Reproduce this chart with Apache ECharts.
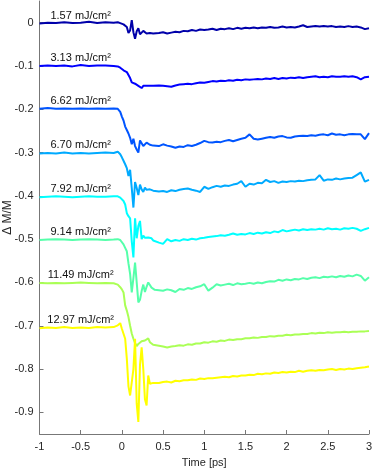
<!DOCTYPE html>
<html>
<head>
<meta charset="utf-8">
<script src="https://cdn.jsdelivr.net/npm/echarts@6/dist/echarts.min.js"></script>
<style>
  html, body { margin: 0; padding: 0; background: #fff; }
  #main { width: 373px; height: 471px; }
</style>
</head>
<body>
<div id="main"></div>
<script>
// time axis (ps), shared by all traces
const time = [
  -1, -0.9, -0.8, -0.7, -0.6, -0.5, -0.4, -0.3, -0.2, -0.1, -0.05, -0.02,
  0, 0.02, 0.04, 0.06, 0.08, 0.1, 0.12, 0.14, 0.16, 0.18, 0.2, 0.22, 0.24, 0.26, 0.28, 0.3, 0.32, 0.34, 0.36, 0.38, 0.4,
  0.45, 0.5, 0.55, 0.6, 0.65, 0.7, 0.75, 0.8, 0.85, 0.9, 0.95, 1,
  1.05, 1.1, 1.15, 1.2, 1.25, 1.3, 1.35, 1.4, 1.45, 1.5,
  1.55, 1.6, 1.65, 1.7, 1.75, 1.8, 1.85, 1.9, 1.95, 2,
  2.05, 2.1, 2.15, 2.2, 2.25, 2.3, 2.35, 2.4, 2.45, 2.5,
  2.55, 2.6, 2.65, 2.7, 2.75, 2.8, 2.85, 2.9, 2.95, 3
];

const fluence = ['1.57 mJ/cm²', '3.13 mJ/cm²', '6.62 mJ/cm²', '6.70 mJ/cm²',
                 '7.92 mJ/cm²', '9.14 mJ/cm²', '11.49 mJ/cm²', '12.97 mJ/cm²'];

// offset traces, dM/M
const f157 = [
  -0.002, 0.000, -0.001, 0.001, -0.001, 0.000, 0.002, -0.001, 0.001, 0.000, 0.001, -0.001,
  -0.002, -0.004, -0.006, -0.010, -0.024, -0.018, 0.006, -0.022, -0.037, -0.020, -0.013, -0.027, -0.024, -0.019, -0.021, -0.025, -0.023, -0.024, -0.022, -0.025, -0.024,
  -0.024, -0.022, -0.025, -0.023, -0.021, -0.022, -0.019, -0.020, -0.017, -0.019, -0.016, -0.017,
  -0.016, -0.014, -0.017, -0.014, -0.015, -0.013, -0.015, -0.012, -0.014, -0.012,
  -0.013, -0.011, -0.013, -0.011, -0.012, -0.010, -0.012, -0.011, -0.009, -0.011,
  -0.010, -0.011, -0.009, -0.006, -0.010, -0.009, -0.008, -0.009, -0.008, -0.009,
  -0.008, -0.010, -0.009, -0.010, -0.008, -0.010, -0.009, -0.011, -0.015, -0.013
];
const f313 = [
  -0.100, -0.099, -0.100, -0.099, -0.101, -0.098, -0.100, -0.099, -0.099, -0.100, -0.101, -0.104,
  -0.106, -0.110, -0.112, -0.114, -0.113, -0.128, -0.138, -0.139, -0.141, -0.144, -0.146, -0.149, -0.151, -0.146, -0.145, -0.146, -0.145, -0.146, -0.145, -0.146, -0.145,
  -0.145, -0.146, -0.147, -0.148, -0.145, -0.143, -0.142, -0.141, -0.142, -0.140, -0.138, -0.139,
  -0.137, -0.135, -0.136, -0.134, -0.135, -0.133, -0.134, -0.132, -0.133, -0.131,
  -0.132, -0.131, -0.130, -0.131, -0.129, -0.130, -0.128, -0.130, -0.128, -0.129,
  -0.127, -0.128, -0.126, -0.128, -0.126, -0.125, -0.124, -0.126, -0.125, -0.126,
  -0.124, -0.125, -0.125, -0.124, -0.125, -0.124, -0.126, -0.131, -0.126, -0.125
];
const f662 = [
  -0.199, -0.197, -0.199, -0.198, -0.199, -0.198, -0.199, -0.198, -0.199, -0.198, -0.199, -0.206,
  -0.217, -0.226, -0.240, -0.248, -0.256, -0.266, -0.281, -0.268, -0.285, -0.293, -0.300, -0.272, -0.268, -0.285, -0.281, -0.277, -0.279, -0.282, -0.281, -0.284, -0.283,
  -0.285, -0.281, -0.284, -0.286, -0.289, -0.286, -0.287, -0.283, -0.285, -0.282, -0.278, -0.273,
  -0.276, -0.277, -0.275, -0.276, -0.273, -0.271, -0.274, -0.271, -0.268, -0.266,
  -0.258, -0.268, -0.270, -0.268, -0.266, -0.264, -0.266, -0.263, -0.262, -0.265,
  -0.266, -0.263, -0.262, -0.261, -0.262, -0.260, -0.261, -0.259, -0.258, -0.260,
  -0.256, -0.259, -0.258, -0.260, -0.258, -0.257, -0.258, -0.258, -0.269, -0.255
];
const f670 = [
  -0.302, -0.301, -0.302, -0.300, -0.302, -0.301, -0.302, -0.301, -0.300, -0.301, -0.298, -0.304,
  -0.311, -0.319, -0.327, -0.336, -0.354, -0.340, -0.382, -0.427, -0.368, -0.382, -0.398, -0.374, -0.385, -0.391, -0.381, -0.386, -0.389, -0.385, -0.383, -0.388, -0.391,
  -0.390, -0.389, -0.391, -0.387, -0.389, -0.386, -0.384, -0.383, -0.386, -0.388, -0.391, -0.379,
  -0.384, -0.380, -0.377, -0.379, -0.376, -0.377, -0.374, -0.372, -0.366, -0.379,
  -0.372, -0.374, -0.370, -0.371, -0.363, -0.368, -0.366, -0.370, -0.367, -0.368,
  -0.366, -0.367, -0.365, -0.366, -0.364, -0.363, -0.362, -0.352, -0.365, -0.362,
  -0.363, -0.360, -0.362, -0.360, -0.359, -0.358, -0.352, -0.346, -0.367, -0.363
];
const f792 = [
  -0.403, -0.402, -0.401, -0.402, -0.403, -0.402, -0.401, -0.402, -0.402, -0.401, -0.401, -0.404,
  -0.406, -0.412, -0.420, -0.440, -0.447, -0.452, -0.505, -0.542, -0.452, -0.498, -0.470, -0.458, -0.500, -0.492, -0.497, -0.500, -0.496, -0.499, -0.498, -0.503, -0.506,
  -0.508, -0.511, -0.500, -0.505, -0.502, -0.504, -0.500, -0.502, -0.499, -0.501, -0.498, -0.497,
  -0.495, -0.494, -0.493, -0.491, -0.492, -0.490, -0.487, -0.490, -0.488, -0.489,
  -0.486, -0.488, -0.485, -0.487, -0.484, -0.486, -0.482, -0.484, -0.479, -0.482,
  -0.480, -0.478, -0.480, -0.477, -0.479, -0.477, -0.478, -0.476, -0.478, -0.475,
  -0.477, -0.476, -0.478, -0.475, -0.476, -0.474, -0.476, -0.481, -0.477, -0.474
];
const f914 = [
  -0.502, -0.501, -0.500, -0.501, -0.502, -0.501, -0.500, -0.501, -0.502, -0.501, -0.500, -0.502,
  -0.506, -0.512, -0.520, -0.528, -0.556, -0.580, -0.623, -0.590, -0.554, -0.600, -0.646, -0.640, -0.620, -0.605, -0.622, -0.610, -0.600, -0.606, -0.612, -0.615, -0.617,
  -0.618, -0.619, -0.616, -0.618, -0.622, -0.615, -0.617, -0.613, -0.615, -0.611, -0.609, -0.604,
  -0.619, -0.612, -0.604, -0.607, -0.605, -0.603, -0.606, -0.602, -0.604, -0.603,
  -0.601, -0.603, -0.600, -0.602, -0.599, -0.597, -0.598, -0.594, -0.596, -0.593,
  -0.595, -0.592, -0.593, -0.590, -0.592, -0.589, -0.588, -0.590, -0.587, -0.588,
  -0.586, -0.588, -0.585, -0.587, -0.584, -0.586, -0.582, -0.585, -0.596, -0.588
];
const f1149 = [
  -0.601, -0.602, -0.601, -0.602, -0.601, -0.600, -0.601, -0.602, -0.601, -0.602, -0.605, -0.611,
  -0.616, -0.623, -0.653, -0.665, -0.680, -0.700, -0.718, -0.730, -0.740, -0.747, -0.742, -0.738, -0.736, -0.735, -0.734, -0.732, -0.729, -0.738, -0.742, -0.744, -0.745,
  -0.746, -0.748, -0.750, -0.748, -0.747, -0.745, -0.746, -0.743, -0.744, -0.741, -0.741, -0.738,
  -0.739, -0.736, -0.737, -0.734, -0.735, -0.732, -0.733, -0.731, -0.731, -0.729,
  -0.729, -0.727, -0.728, -0.726, -0.726, -0.724, -0.725, -0.723, -0.723, -0.721,
  -0.722, -0.720, -0.720, -0.719, -0.719, -0.717, -0.718, -0.716, -0.717, -0.715,
  -0.716, -0.715, -0.715, -0.714, -0.715, -0.714, -0.714, -0.713, -0.713, -0.712
];
const f1297 = [
  -0.706, -0.704, -0.705, -0.703, -0.705, -0.704, -0.705, -0.703, -0.704, -0.703, -0.699, -0.694,
  -0.707, -0.711, -0.730, -0.776, -0.840, -0.861, -0.861, -0.800, -0.730, -0.880, -0.922, -0.790, -0.750, -0.800, -0.870, -0.884, -0.815, -0.834, -0.830, -0.832, -0.831,
  -0.832, -0.830, -0.829, -0.831, -0.827, -0.828, -0.826, -0.826, -0.824, -0.825, -0.822, -0.823,
  -0.821, -0.821, -0.820, -0.819, -0.818, -0.819, -0.816, -0.817, -0.815, -0.815,
  -0.813, -0.814, -0.811, -0.812, -0.810, -0.811, -0.808, -0.809, -0.807, -0.808,
  -0.806, -0.807, -0.804, -0.806, -0.804, -0.803, -0.804, -0.802, -0.803, -0.801,
  -0.800, -0.802, -0.800, -0.801, -0.799, -0.800, -0.798, -0.797, -0.796, -0.794
];

const yTicks = [0, -0.1, -0.2, -0.3, -0.4, -0.5, -0.6, -0.7, -0.8, -0.9];

const traces = [f157, f313, f662, f670, f792, f914, f1149, f1297];
// jet-like colours, low to high fluence
const colors = ['#0000aa', '#0000ff', '#0055ff', '#00aaff', '#00ffff', '#55ffaa', '#aaff55', '#ffff00'];

const chart = echarts.init(document.getElementById('main'), null, { renderer: 'canvas' });

const series = traces.map(function (vals, k) {
  return {
    type: 'line',
    name: fluence[k],
    data: time.map(function (t, i) { return [t, vals[i]]; }),
    showSymbol: false,
    symbol: 'none',
    lineStyle: { width: 2, color: colors[k] },
    itemStyle: { color: colors[k] },
    z: 2 + k,
    markPoint: {
      symbol: 'circle',
      symbolSize: 0,
      silent: true,
      data: [{ coord: [-0.5, vals[0]], value: fluence[k] }],
      label: {
        show: true,
        position: 'inside',
        offset: [0, -8],
        formatter: fluence[k],
        color: '#111',
        fontSize: 11,
        fontFamily: 'Liberation Sans, Arial, sans-serif'
      }
    }
  };
});

chart.setOption({
  animation: false,
  backgroundColor: '#fff',
  textStyle: { fontFamily: 'Liberation Sans, Arial, sans-serif' },
  grid: { left: 39.5, right: 4, top: 1, bottom: 37, containLabel: false, outerBoundsMode: 'none' },
  xAxis: {
    type: 'value',
    min: -1, max: 3, interval: 0.5,
    name: 'Time [ps]',
    nameLocation: 'middle',
    nameGap: 23,
    nameTextStyle: { color: '#262626', fontSize: 11 },
    axisLine: { show: true, onZero: false, lineStyle: { color: '#777', width: 1 } },
    axisTick: { show: true, inside: true, length: 4, lineStyle: { color: '#777' } },
    axisLabel: { color: '#262626', fontSize: 11, margin: 7 },
    splitLine: { show: false }
  },
  yAxis: {
    type: 'value',
    min: -0.95, max: 0.05,
    name: 'Δ M/M',
    nameLocation: 'middle',
    nameRotate: 90,
    nameGap: 26,
    nameMoveOverlap: false,
    nameTextStyle: { color: '#262626', fontSize: 12 },
    axisLine: { show: true, onZero: false, lineStyle: { color: '#777', width: 1 } },
    axisTick: { show: true, inside: true, length: 4, customValues: yTicks, lineStyle: { color: '#777' } },
    axisLabel: { color: '#262626', fontSize: 11, margin: 6, customValues: yTicks },
    splitLine: { show: false }
  },
  series: series
});
</script>
</body>
</html>
